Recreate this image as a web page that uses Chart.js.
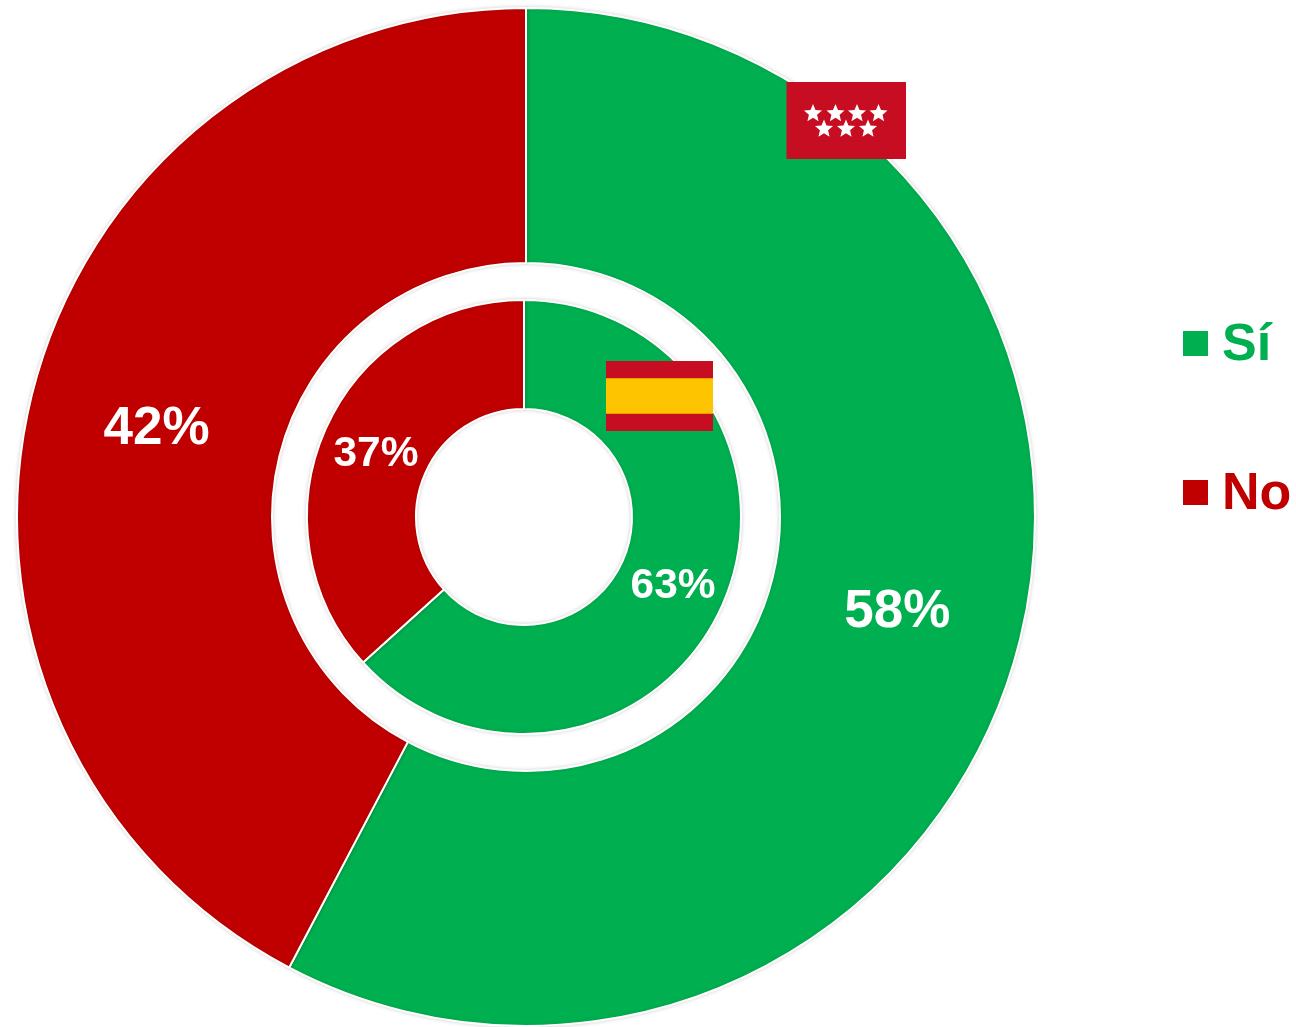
<!DOCTYPE html>
<html lang="es">
<head>
<meta charset="utf-8">
<title>Sí / No</title>
<script src="https://cdn.jsdelivr.net/npm/chart.js@4/dist/chart.umd.min.js"></script>
<style>html,body{margin:0;padding:0;background:#fff}canvas{display:block}</style>
</head>
<body>
<canvas id="c" width="1296" height="1027"></canvas>
<script>
const categories = ['Sí', 'No'];
const madridValues = [57.7, 42.3];
const spainValues = [63.3, 36.7];
const seriesColors = ['#00B050', '#C00000'];

const FONT = '"Liberation Sans", Arial, sans-serif';

function star(ctx, cx, cy, r) {
  ctx.beginPath();
  for (let i = 0; i < 10; i++) {
    const rad = i % 2 ? r * 0.45 : r;
    const a = -Math.PI / 2 + i * Math.PI / 5;
    ctx.lineTo(cx + rad * Math.cos(a), cy + rad * Math.sin(a));
  }
  ctx.closePath();
  ctx.fill();
}

const overlay = {
  id: 'overlay',
  beforeDatasetDraw(chart, args) {
    const ctx = chart.ctx;
    ctx.save();
    ctx.shadowColor = 'rgba(0,0,0,0.16)';
    ctx.shadowBlur = 4;
    if (args.index === 2) ctx.translate(-2, 0);
  },
  afterDatasetDraw(chart) {
    chart.ctx.restore();
  },
  afterDatasetsDraw(chart) {
    const ctx = chart.ctx;
    ctx.save();
    // flags
    ctx.fillStyle = '#C60D22';
    ctx.fillRect(786.5, 82, 119.5, 77);
    ctx.fillStyle = '#FFFFFF';
    [813, 835.5, 857, 878.5].forEach(x => star(ctx, x, 113.5, 9.5));
    [824, 846, 868].forEach(x => star(ctx, x, 129, 9.5));
    ctx.fillStyle = '#C60D22';
    ctx.fillRect(606, 361, 107, 70);
    ctx.fillStyle = '#F09A00';
    ctx.fillRect(606, 378, 107, 36);
    ctx.fillStyle = '#FFC400';
    ctx.fillRect(606, 379, 107, 34);
    // percentage labels
    ctx.fillStyle = '#FFFFFF';
    ctx.textAlign = 'center';
    ctx.textBaseline = 'middle';
    chart.data.datasets.forEach((ds, i) => {
      if (!ds.data.length) return;
      const dx = i === 2 ? -1.5 : 1;
      const dy = i === 2 ? 3 : 4;
      ctx.font = 'bold ' + (i === 0 ? 53 : 42.5) + 'px ' + FONT;
      chart.getDatasetMeta(i).data.forEach((arc, j) => {
        const p = arc.getCenterPoint();
        ctx.fillText(Math.round(ds.data[j]) + '%', p.x + dx, p.y + dy);
      });
    });
    // legend
    ctx.textAlign = 'left';
    ctx.textBaseline = 'alphabetic';
    ctx.font = 'bold 52px ' + FONT;
    const rows = [[331, 360], [480, 509]];
    categories.forEach((name, i) => {
      ctx.fillStyle = seriesColors[i];
      ctx.fillRect(1183, rows[i][0], 25, 25);
      ctx.fillText(name, 1222, rows[i][1]);
    });
    ctx.restore();
  }
};

new Chart(document.getElementById('c'), {
  type: 'doughnut',
  data: {
    labels: categories,
    datasets: [
      { label: 'Comunidad de Madrid', data: madridValues, backgroundColor: seriesColors, weight: 255 },
      { label: '', data: [], weight: 37 },
      { label: 'España', data: spainValues, backgroundColor: seriesColors, weight: 109 }
    ]
  },
  options: {
    responsive: false,
    animation: false,
    cutout: 108,
    layout: { padding: { left: 16, right: 260, top: 7, bottom: 0 } },
    elements: { arc: { borderColor: '#FFFFFF', borderWidth: 2 } },
    plugins: { legend: { display: false }, tooltip: { enabled: false } }
  },
  plugins: [overlay]
});
</script>
</body>
</html>
